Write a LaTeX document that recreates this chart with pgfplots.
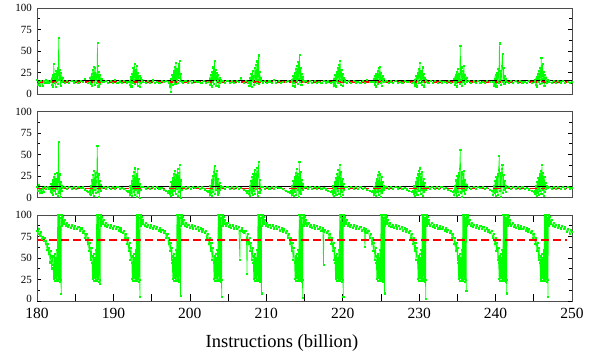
\documentclass[border=0pt]{standalone}
\usepackage{fontspec}
\setmainfont{Liberation Serif}
\usepackage{pgfplots}
\pgfplotsset{compat=1.18}
\definecolor{pgreen}{RGB}{0,255,0}
\pgfplotsset{
 panel/.style={scale only axis, width=535pt, height=86pt, xmin=180, xmax=250, ymin=0, ymax=100,
  ytick={0,25,50,75,100}, minor y tick num=1,
  axis line style={black!70, line width=0.9pt},
  tick style={black, line width=0.6pt},
  major tick length=4pt, minor tick length=3pt,
  yticklabel style={font=\fontsize{11}{13}\selectfont, inner sep=0pt, xshift=-5pt},
  /pgf/number format/assume math mode=true},
 gline/.style={pgreen, line width=0.6pt, mark=square*, mark size=0.55pt, mark options={pgreen}},
 rline/.style={red, line width=1.5pt, dash pattern=on 8pt off 4pt},
}
\begin{document}
\begin{tikzpicture}
% ---------------- bottom panel ----------------
\begin{axis}[panel, at={(0,0)}, anchor=south west,
  ytick={25,50,75,100}, minor ytick={12.5,37.5,62.5,87.5},
  extra y ticks={0}, extra y tick style={yticklabel style={yshift=2pt}},
  xtick={180,185,...,250}, xticklabels={180,,190,,200,,210,,220,,230,,240,,250},
  xtick style={/pgfplots/major tick length=7pt},
  xticklabel style={font=\fontsize{15.5}{18}\selectfont, inner sep=0pt, yshift=-7pt}]
\addplot[gline] coordinates {
(180.00,82) (180.10,78) (180.20,84) (180.35,76) (180.50,80) (180.65,72) (180.80,75) (180.90,70) (181.00,73) (181.10,66) (181.20,70) (181.30,60) (181.40,66) (181.50,55) (181.60,62) (181.70,45) (181.80,58) (181.90,38) (182.00,52) (182.10,42)
(182.16,26) (182.22,52) (182.28,24) (182.34,55) (182.40,27) (182.46,50) (182.52,23) (182.58,60) (182.64,25) (182.70,100) (182.76,23) (182.82,98) (182.88,26) (182.94,100) (183.00,22) (183.06,97) (183.12,25) (183.17,8) (183.20,100)
(183.25,87) (183.30,100) (183.36,90) (183.42,98) (183.50,90) (183.60,94) (183.75,87) (183.90,90.5) (184.05,86) (184.20,89) (184.40,85) (184.60,88) (184.80,84.5) (185.00,87.5) (185.20,83.5) (185.40,86.5) (185.60,82) (185.80,84.5) (186.00,79.5) (186.15,82) (186.30,74) (186.45,78) (186.60,66) (186.70,73) (186.80,58) (186.90,68) (187.00,48) (187.10,62) (187.20,44)
(187.26,26) (187.32,52) (187.38,24) (187.44,55) (187.50,27) (187.56,50) (187.62,23) (187.68,60) (187.74,25) (187.80,100) (187.86,23) (187.92,98) (187.98,26) (188.04,100) (188.10,22) (188.16,97) (188.22,25) (188.27,20) (188.30,100)
(188.35,87) (188.40,100) (188.46,90) (188.52,98) (188.60,90) (188.70,94) (188.85,87) (189.00,90.5) (189.15,86) (189.30,89) (189.50,85) (189.70,88) (189.90,84.5) (190.10,87.5) (190.30,83.5) (190.50,86.5) (190.70,82) (190.90,84.5) (191.00,81) (191.20,79.5) (191.35,82) (191.50,74) (191.65,78) (191.80,66) (191.90,73) (192.00,58) (192.10,68) (192.20,48) (192.30,62) (192.40,44)
(192.46,26) (192.52,52) (192.58,24) (192.64,55) (192.70,27) (192.76,50) (192.82,23) (192.88,60) (192.94,25) (193.00,100) (193.06,23) (193.12,98) (193.18,26) (193.24,100) (193.30,22) (193.36,97) (193.42,25) (193.47,5) (193.50,100)
(193.55,87) (193.60,100) (193.66,90) (193.72,98) (193.80,90) (193.90,94) (194.05,87) (194.20,90.5) (194.35,86) (194.50,89) (194.70,85) (194.90,88) (195.10,84.5) (195.30,87.5) (195.50,83.5) (195.70,86.5) (195.90,82) (196.10,84.5) (196.25,81) (196.40,83) (196.60,79.5) (196.75,82) (196.90,74) (197.05,78) (197.20,66) (197.30,73) (197.40,58) (197.50,68) (197.60,48) (197.65,62) (197.70,44)
(197.76,26) (197.82,52) (197.88,24) (197.94,55) (198.00,27) (198.06,50) (198.12,23) (198.18,60) (198.24,25) (198.30,100) (198.36,23) (198.42,98) (198.48,26) (198.54,100) (198.60,22) (198.66,97) (198.72,25) (198.77,6) (198.80,100)
(198.85,87) (198.90,100) (198.96,90) (199.02,98) (199.10,90) (199.20,94) (199.35,87) (199.50,90.5) (199.65,86) (199.80,89) (200.00,85) (200.20,88) (200.40,84.5) (200.60,87.5) (200.80,83.5) (201.00,86.5) (201.20,82) (201.40,84.5) (201.55,81) (201.70,83.5) (201.90,79.5) (202.05,82) (202.20,74) (202.35,78) (202.50,66) (202.60,73) (202.70,58) (202.80,68) (202.90,48) (203.00,62) (203.10,44)
(203.16,26) (203.22,52) (203.28,24) (203.34,55) (203.40,27) (203.46,50) (203.52,23) (203.58,60) (203.64,25) (203.70,100) (203.76,23) (203.82,98) (203.88,26) (203.94,100) (204.00,22) (204.06,97) (204.12,25) (204.17,5) (204.20,100)
(204.25,87) (204.30,100) (204.36,90) (204.42,98) (204.50,90) (204.60,94) (204.75,87) (204.90,90.5) (205.05,86) (205.20,89) (205.40,85) (205.60,88) (205.80,84.5) (206.00,87.5) (206.20,83.5) (206.40,86.5) (206.55,48) (206.60,82) (206.80,84.5) (206.90,81) (207.10,79.5) (207.25,82) (207.40,74) (207.48,32) (207.55,78) (207.70,66) (207.80,73) (207.90,58) (208.00,68) (208.10,48) (208.20,62) (208.30,44)
(208.36,26) (208.42,52) (208.48,24) (208.54,55) (208.60,27) (208.66,50) (208.72,23) (208.78,60) (208.84,25) (208.90,100) (208.96,23) (209.02,98) (209.08,26) (209.14,100) (209.20,22) (209.26,97) (209.32,25) (209.37,9) (209.40,100)
(209.45,87) (209.50,100) (209.56,90) (209.62,98) (209.70,90) (209.80,94) (209.95,87) (210.10,90.5) (210.25,86) (210.40,89) (210.60,85) (210.80,88) (211.00,84.5) (211.20,87.5) (211.40,83.5) (211.60,86.5) (211.80,82) (212.00,84.5) (212.15,81) (212.30,83.5) (212.50,79.5) (212.65,82) (212.80,74) (212.95,78) (213.10,66) (213.20,73) (213.30,58) (213.40,68) (213.50,48) (213.60,62) (213.70,44)
(213.76,26) (213.82,52) (213.88,24) (213.94,55) (214.00,27) (214.06,50) (214.12,23) (214.18,60) (214.24,25) (214.30,100) (214.36,23) (214.42,98) (214.48,26) (214.54,100) (214.60,22) (214.66,97) (214.72,25) (214.77,4) (214.80,100)
(214.85,87) (214.90,100) (214.96,90) (215.02,98) (215.10,90) (215.20,94) (215.35,87) (215.50,90.5) (215.65,86) (215.80,89) (216.00,85) (216.20,88) (216.40,84.5) (216.60,87.5) (216.80,83.5) (217.00,86.5) (217.20,82) (217.40,84.5) (217.48,42) (217.55,81) (217.70,83) (217.90,79.5) (218.05,82) (218.20,74) (218.35,78) (218.50,66) (218.60,73) (218.70,58) (218.80,68) (218.90,48) (218.95,62) (219.00,44)
(219.06,26) (219.12,52) (219.18,24) (219.24,55) (219.30,27) (219.36,50) (219.42,23) (219.48,60) (219.54,25) (219.60,100) (219.66,23) (219.72,98) (219.78,26) (219.84,100) (219.90,22) (219.96,97) (220.02,25) (220.07,5) (220.10,100)
(220.15,87) (220.20,100) (220.26,90) (220.32,98) (220.40,90) (220.50,94) (220.65,87) (220.80,90.5) (220.95,86) (221.10,89) (221.30,85) (221.50,88) (221.70,84.5) (221.90,87.5) (222.10,83.5) (222.30,86.5) (222.50,82) (222.70,84.5) (222.85,81) (222.90,63) (223.00,83.5) (223.20,79.5) (223.35,82) (223.50,74) (223.65,78) (223.80,66) (223.90,73) (224.00,58) (224.10,68) (224.20,48) (224.30,62) (224.40,44)
(224.46,26) (224.52,52) (224.58,24) (224.64,55) (224.70,27) (224.76,50) (224.82,23) (224.88,60) (224.94,25) (225.00,100) (225.06,23) (225.12,98) (225.18,26) (225.24,100) (225.30,22) (225.36,97) (225.42,25) (225.47,9) (225.50,100)
(225.55,87) (225.60,100) (225.66,90) (225.72,98) (225.80,90) (225.90,94) (226.05,87) (226.20,90.5) (226.35,86) (226.50,89) (226.70,85) (226.90,88) (227.10,84.5) (227.30,87.5) (227.50,83.5) (227.70,86.5) (227.90,82) (228.10,84.5) (228.25,81) (228.40,83.5) (228.60,79.5) (228.75,82) (228.90,74) (229.05,78) (229.20,66) (229.30,73) (229.40,58) (229.50,68) (229.60,48) (229.70,62) (229.80,44)
(229.86,26) (229.92,52) (229.98,24) (230.04,55) (230.10,27) (230.16,50) (230.22,23) (230.28,60) (230.34,25) (230.40,100) (230.46,23) (230.52,98) (230.58,26) (230.64,100) (230.70,22) (230.76,97) (230.82,25) (230.87,3) (230.90,100)
(230.95,87) (231.00,100) (231.06,90) (231.12,98) (231.20,90) (231.30,94) (231.45,87) (231.60,90.5) (231.75,86) (231.90,89) (232.10,85) (232.30,88) (232.50,84.5) (232.70,87.5) (232.90,83.5) (233.10,86.5) (233.30,82) (233.50,84.5) (233.65,81) (233.80,83) (234.00,79.5) (234.15,82) (234.30,74) (234.45,78) (234.60,66) (234.70,73) (234.80,58) (234.90,68) (235.00,48) (235.05,62) (235.10,44)
(235.16,26) (235.22,52) (235.28,24) (235.34,55) (235.40,27) (235.46,50) (235.52,23) (235.58,60) (235.64,25) (235.70,100) (235.76,23) (235.82,98) (235.88,26) (235.94,100) (236.00,22) (236.06,97) (236.12,25) (236.17,12) (236.20,100)
(236.25,87) (236.30,100) (236.36,90) (236.42,98) (236.50,90) (236.60,94) (236.75,87) (236.90,90.5) (237.05,86) (237.20,89) (237.40,85) (237.60,88) (237.80,84.5) (238.00,87.5) (238.20,83.5) (238.40,86.5) (238.60,82) (238.80,84.5) (238.95,81) (239.10,83) (239.30,79.5) (239.45,82) (239.60,74) (239.75,78) (239.90,66) (240.00,73) (240.10,58) (240.20,68) (240.30,48) (240.35,62) (240.40,44)
(240.46,26) (240.52,52) (240.58,24) (240.64,55) (240.70,27) (240.76,50) (240.82,23) (240.88,60) (240.94,25) (241.00,100) (241.06,23) (241.12,98) (241.18,26) (241.24,100) (241.30,22) (241.36,97) (241.42,25) (241.47,9) (241.50,100)
(241.55,87) (241.60,100) (241.66,90) (241.72,98) (241.80,90) (241.90,94) (242.05,87) (242.20,90.5) (242.35,86) (242.50,89) (242.70,85) (242.90,88) (243.10,84.5) (243.30,87.5) (243.50,83.5) (243.70,86.5) (243.90,82) (244.10,84.5) (244.25,81) (244.40,83.5) (244.60,79.5) (244.75,82) (244.90,74) (245.05,78) (245.20,66) (245.30,73) (245.40,58) (245.50,68) (245.60,48) (245.70,62) (245.80,44)
(245.86,26) (245.92,52) (245.98,24) (246.04,55) (246.10,27) (246.16,50) (246.22,23) (246.28,60) (246.34,25) (246.40,100) (246.46,23) (246.52,98) (246.58,26) (246.64,100) (246.70,22) (246.76,97) (246.82,25) (246.87,5) (246.90,100)
(246.95,87) (247.00,100) (247.06,90) (247.12,98) (247.20,90) (247.30,94) (247.45,87) (247.60,90.5) (247.75,86) (247.90,89) (248.10,85) (248.30,88) (248.50,84.5) (248.70,87.5) (248.90,83.5) (249.10,86) (249.30,80) (249.50,84) (249.70,78) (249.85,83) (250.00,80)
};
\addplot[rline] coordinates {(180,71) (249.3,71)};
\end{axis}
% ---------------- middle panel ----------------
\begin{axis}[panel, at={(0,103.5pt)}, anchor=south west, xtick=\empty]
\addplot[gline] coordinates {
(180.00,12.5) (180.12,8) (180.25,15) (180.38,5) (180.50,9) (180.62,6) (180.75,11.5) (180.88,7) (181.00,12.8) (181.20,10.6) (181.40,12.3) (181.60,9.8)
(181.70,11) (181.78,7) (181.86,16) (181.94,5) (182.02,20) (182.10,3) (182.18,24) (182.26,8) (182.34,28) (182.42,4) (182.50,22) (182.58,10) (182.66,29) (182.74,2) (182.82,65) (182.90,6) (182.98,27) (183.06,1) (183.14,18) (183.22,8) (183.30,14) (183.38,11)
(183.6,12.4) (183.9,10.3) (184.2,12.8) (184.5,10.6) (184.8,12.1) (185.1,10.1) (185.4,12.6) (185.7,10.8) (186.0,11.9) (186.3,9.2) (186.5,7.5) (186.7,6.2)
(186.85,8) (186.93,4) (187.01,14) (187.09,3) (187.17,20) (187.25,6) (187.33,26) (187.41,2) (187.49,31) (187.57,9) (187.65,29) (187.73,5) (187.81,24) (187.89,60) (187.97,7) (188.05,27) (188.13,1) (188.21,19) (188.29,8) (188.37,15) (188.45,11)
(188.7,12.6) (189.0,10.4) (189.3,12.9) (189.6,10.2) (189.9,12.3) (190.2,10.7) (190.5,12.7) (190.8,10.5) (191.1,11.8) (191.4,9.6) (191.7,7.8) (191.9,6.4)
(192.05,8) (192.13,3) (192.21,13) (192.29,5) (192.37,19) (192.45,2) (192.53,25) (192.61,7) (192.69,30) (192.77,3) (192.85,34) (192.93,9) (193.01,28) (193.09,1) (193.17,33) (193.25,6) (193.33,22) (193.41,0) (193.49,16) (193.57,9) (193.65,12)
(193.9,12.5) (194.2,10.3) (194.5,12.7) (194.8,10.6) (195.1,12.2) (195.4,10.0) (195.7,12.8) (196.0,10.7) (196.3,11.6) (196.6,9.3) (196.9,7.6) (197.1,6.0)
(197.25,8) (197.33,4) (197.41,12) (197.49,2) (197.57,18) (197.65,6) (197.73,23) (197.81,3) (197.89,28) (197.97,8) (198.05,31) (198.13,4) (198.21,26) (198.29,10) (198.37,33) (198.45,2) (198.53,29) (198.61,7) (198.69,38) (198.77,0) (198.85,20) (198.93,9) (199.01,12)
(199.2,12.4) (199.5,10.2) (199.8,12.9) (200.1,10.5) (200.4,12.3) (200.7,10.8) (201.0,12.6) (201.3,10.1) (201.6,11.9) (201.9,9.5) (202.2,7.7) (202.4,6.3)
(202.50,8) (202.58,3) (202.66,14) (202.74,5) (202.82,20) (202.90,2) (202.98,25) (203.06,7) (203.14,30) (203.22,37) (203.30,4) (203.38,27) (203.46,9) (203.54,31) (203.62,3) (203.70,22) (203.78,6) (203.86,17) (203.94,9) (204.02,13) (204.10,11)
(204.3,12.5) (204.6,10.4) (204.9,12.7) (205.2,10.1) (205.5,12.2) (205.8,10.6) (206.1,12.8) (206.4,10.3) (206.7,11.7) (207.0,9.4) (207.3,7.5) (207.5,6.1)
(207.65,8) (207.73,4) (207.81,13) (207.89,2) (207.97,19) (208.05,6) (208.13,24) (208.21,3) (208.29,28) (208.37,8) (208.45,32) (208.53,4) (208.61,27) (208.69,10) (208.77,35) (208.85,2) (208.93,30) (209.01,41) (209.09,6) (209.17,21) (209.25,9) (209.33,12)
(209.5,12.6) (209.8,10.3) (210.1,12.8) (210.4,10.6) (210.7,12.1) (211.0,10.2) (211.3,12.7) (211.6,10.8) (211.9,11.6) (212.2,9.6) (212.5,7.8) (212.8,6.5) (213.05,6.0)
(213.20,8) (213.28,3) (213.36,13) (213.44,5) (213.52,19) (213.60,2) (213.68,24) (213.76,7) (213.84,29) (213.92,3) (214.00,33) (214.08,9) (214.16,28) (214.24,1) (214.32,42) (214.40,6) (214.48,30) (214.56,4) (214.64,21) (214.72,9) (214.80,16) (214.88,11)
(215.1,12.4) (215.4,10.5) (215.7,12.9) (216.0,10.2) (216.3,12.3) (216.6,10.7) (216.9,12.6) (217.2,10.4) (217.5,11.8) (217.8,9.5) (218.1,7.7) (218.4,6.2)
(218.60,8) (218.68,4) (218.76,13) (218.84,2) (218.92,18) (219.00,6) (219.08,23) (219.16,3) (219.24,28) (219.32,8) (219.40,32) (219.48,4) (219.56,27) (219.64,38) (219.72,1) (219.80,30) (219.88,7) (219.96,22) (220.04,3) (220.12,16) (220.20,9) (220.28,12)
(220.5,12.5) (220.8,10.3) (221.1,12.7) (221.4,10.6) (221.7,12.2) (222.0,10.1) (222.3,12.8) (222.6,10.5) (222.9,11.7) (223.2,9.4) (223.5,7.6) (223.8,6.3)
(223.95,8) (224.03,3) (224.11,12) (224.19,5) (224.27,17) (224.35,2) (224.43,22) (224.51,7) (224.59,26) (224.67,3) (224.75,30) (224.83,8) (224.91,27) (224.99,1) (225.07,24) (225.15,6) (225.23,18) (225.31,9) (225.39,13) (225.47,11)
(225.7,12.6) (226.0,10.4) (226.3,12.8) (226.6,10.2) (226.9,12.1) (227.2,10.7) (227.5,12.6) (227.8,10.3) (228.1,11.8) (228.4,9.5) (228.7,7.8) (229.0,6.4)
(229.20,8) (229.28,4) (229.36,13) (229.44,2) (229.52,18) (229.60,6) (229.68,23) (229.76,3) (229.84,27) (229.92,8) (230.00,31) (230.08,34) (230.16,4) (230.24,28) (230.32,9) (230.40,30) (230.48,2) (230.56,22) (230.64,7) (230.72,17) (230.80,9) (230.88,12)
(231.1,12.5) (231.4,10.2) (231.7,12.7) (232.0,10.6) (232.3,12.3) (232.6,10.1) (232.9,12.8) (233.2,10.5) (233.5,11.6) (233.8,9.3) (234.1,7.6) (234.35,6.2)
(234.50,8) (234.58,3) (234.66,14) (234.74,5) (234.82,20) (234.90,2) (234.98,25) (235.06,7) (235.14,29) (235.22,3) (235.30,33) (235.38,55) (235.46,6) (235.54,30) (235.62,1) (235.70,27) (235.78,8) (235.86,31) (235.94,4) (236.02,21) (236.10,9) (236.18,15) (236.26,11)
(236.5,12.4) (236.8,10.3) (237.1,12.9) (237.4,10.5) (237.7,12.2) (238.0,10.8) (238.3,12.6) (238.6,10.2) (238.9,11.7) (239.2,9.4) (239.45,7.5)
(239.60,8) (239.68,3) (239.76,13) (239.84,5) (239.92,19) (240.00,2) (240.08,24) (240.16,7) (240.24,28) (240.32,3) (240.40,32) (240.48,48) (240.56,8) (240.64,29) (240.72,1) (240.80,33) (240.88,38) (240.96,5) (241.04,26) (241.12,9) (241.20,19) (241.28,7) (241.36,14) (241.44,11)
(241.7,12.6) (242.0,10.4) (242.3,12.8) (242.6,10.1) (242.9,12.3) (243.2,10.6) (243.5,12.7) (243.8,10.3) (244.1,11.6) (244.4,9.5) (244.7,7.7) (244.95,6.3)
(245.10,8) (245.18,4) (245.26,13) (245.34,2) (245.42,18) (245.50,6) (245.58,23) (245.66,3) (245.74,28) (245.82,8) (245.90,31) (245.98,4) (246.06,38) (246.14,9) (246.22,29) (246.30,2) (246.38,24) (246.46,7) (246.54,17) (246.62,10) (246.70,13) (246.78,11)
(247.0,12.5) (247.3,10.3) (247.6,12.7) (247.9,10.6) (248.2,12.2) (248.5,10.4) (248.8,12.8) (249.1,10.2) (249.4,12.1) (249.7,10.7) (250.0,11.5)
};
\addplot[black, line width=0.8pt] coordinates {(180,12.5) (250,12.5)};
\addplot[rline] coordinates {(180,10.3) (249.3,10.3)};
\end{axis}
% ---------------- top panel ----------------
\begin{axis}[panel, at={(0,207pt)}, anchor=south west, xtick=\empty]
\addplot[gline] coordinates {
(180.00,16) (180.10,10.5) (180.25,14.5) (180.40,9.5) (180.55,15) (180.70,10) (180.85,14.8) (181.00,13.2) (181.15,17) (181.30,13.5) (181.45,15.2) (181.60,12.8) (181.75,15.5)
(181.80,14) (181.88,18) (181.96,11) (182.04,22) (182.12,9) (182.20,35) (182.28,13) (182.36,24) (182.44,8) (182.52,27) (182.60,15) (182.68,30) (182.76,12) (182.84,65) (182.92,16) (183.00,28) (183.08,10) (183.16,25) (183.24,14) (183.32,19) (183.40,15)
(183.6,13.5) (183.9,15.2) (184.2,13.1) (184.5,15.8) (184.8,13.6) (185.1,14.9) (185.4,12.8) (185.7,15.4) (186.0,13.9) (186.3,17.5) (186.6,13.3)
(186.90,14.5) (186.98,19) (187.06,12) (187.14,24) (187.22,10) (187.30,28) (187.38,14) (187.46,32) (187.54,11) (187.62,30) (187.70,17) (187.78,22) (187.86,13) (187.90,60) (187.94,33) (188.02,9) (188.10,26) (188.18,12) (188.26,22) (188.34,15) (188.42,18) (188.50,14)
(188.7,13.8) (189.0,15.5) (189.3,12.9) (189.6,15.1) (189.9,13.4) (190.2,16.2) (190.5,13.0) (190.8,14.8) (191.1,12.7) (191.4,15.6) (191.7,13.6) (192.0,14.4)
(192.10,15) (192.18,11) (192.26,20) (192.34,9) (192.42,24) (192.50,13) (192.58,30) (192.66,16) (192.74,35) (192.82,12) (192.90,28) (192.98,18) (193.06,33) (193.14,10) (193.22,25) (193.30,14) (193.38,21) (193.46,8) (193.54,19) (193.62,13) (193.70,16)
(193.9,14.2) (194.2,12.8) (194.5,15.3) (194.8,13.5) (195.1,15.9) (195.4,13.0) (195.7,14.7) (196.0,12.9) (196.3,15.2) (196.6,13.7) (196.9,14.9) (197.2,13.3)
(197.30,14) (197.38,9) (197.46,18) (197.54,3) (197.62,16) (197.70,22) (197.78,11) (197.86,27) (197.94,14) (198.02,32) (198.10,12) (198.18,36) (198.26,17) (198.34,29) (198.42,13) (198.50,35) (198.58,19) (198.66,39) (198.74,15) (198.82,24) (198.90,14)
(199.1,13.6) (199.4,15.4) (199.7,12.7) (200.0,14.9) (200.3,13.2) (200.6,15.7) (200.9,13.8) (201.2,14.3) (201.5,12.9) (201.8,15.5) (202.1,13.4) (202.4,14.6)
(202.50,14) (202.58,18) (202.66,11) (202.74,22) (202.82,9) (202.90,26) (202.98,14) (203.06,31) (203.14,12) (203.22,39) (203.30,16) (203.38,28) (203.46,10) (203.54,25) (203.62,15) (203.70,22) (203.78,9) (203.86,19) (203.94,13) (204.02,17) (204.10,14)
(204.3,15.1) (204.6,13.0) (204.9,15.6) (205.2,13.4) (205.5,14.8) (205.8,12.8) (206.1,15.3) (206.4,13.7) (206.7,18.5) (207.0,13.1) (207.3,14.9) (207.6,13.5)
(207.70,14) (207.78,10) (207.86,19) (207.94,12) (208.02,23) (208.10,8) (208.18,27) (208.26,15) (208.34,21) (208.42,11) (208.50,30) (208.58,17) (208.66,34) (208.74,13) (208.82,38) (208.90,16) (208.98,45) (209.06,12) (209.14,26) (209.22,15) (209.30,19)
(209.5,13.6) (209.8,15.2) (210.1,12.9) (210.4,14.8) (210.7,13.3) (211.0,16.4) (211.3,13.1) (211.6,15.0) (211.9,12.7) (212.2,14.6) (212.5,13.8) (212.8,15.3)
(213.30,14) (213.38,17) (213.46,10) (213.54,21) (213.62,13) (213.70,25) (213.78,9) (213.86,29) (213.94,15) (214.02,33) (214.10,12) (214.18,37) (214.26,18) (214.34,46) (214.42,14) (214.50,30) (214.58,11) (214.66,24) (214.74,16) (214.82,20) (214.90,14)
(215.1,15.4) (215.4,13.1) (215.7,14.9) (216.0,12.8) (216.3,15.7) (216.6,13.5) (216.9,14.4) (217.2,12.9) (217.5,15.2) (217.8,13.6) (218.1,14.8) (218.4,13.2)
(218.70,14) (218.78,10) (218.86,18) (218.94,12) (219.02,22) (219.10,9) (219.18,26) (219.26,15) (219.34,30) (219.42,13) (219.50,34) (219.58,17) (219.66,39) (219.74,11) (219.82,28) (219.90,15) (219.98,23) (220.06,10) (220.14,19) (220.22,14) (220.30,16)
(220.5,13.4) (220.8,15.3) (221.1,13.0) (221.4,15.8) (221.7,13.6) (222.0,14.7) (222.3,12.8) (222.6,15.1) (222.9,13.3) (223.2,17.0) (223.5,13.7) (223.8,14.5)
(224.00,14) (224.08,18) (224.16,11) (224.24,21) (224.32,9) (224.40,24) (224.48,14) (224.56,27) (224.64,12) (224.72,30) (224.80,16) (224.88,32) (224.96,13) (225.04,25) (225.12,10) (225.20,21) (225.28,15) (225.36,18) (225.44,14)
(225.7,15.2) (226.0,13.1) (226.3,14.8) (226.6,12.7) (226.9,15.5) (227.2,13.4) (227.5,14.6) (227.8,13.0) (228.1,15.3) (228.4,13.8) (228.7,14.4) (229.0,13.2)
(229.30,14) (229.38,10) (229.46,17) (229.54,12) (229.62,21) (229.70,9) (229.78,25) (229.86,15) (229.94,29) (230.02,13) (230.10,36) (230.18,17) (230.26,27) (230.34,11) (230.42,31) (230.50,14) (230.58,23) (230.66,9) (230.74,19) (230.82,15) (230.90,17) (230.98,14)
(231.2,13.5) (231.5,15.4) (231.8,12.9) (232.1,14.9) (232.4,13.3) (232.7,15.8) (233.0,13.6) (233.3,14.5) (233.6,12.8) (233.9,15.2) (234.2,13.4)
(234.50,14) (234.58,18) (234.66,11) (234.74,22) (234.82,13) (234.90,26) (234.98,9) (235.06,29) (235.14,15) (235.22,24) (235.30,12) (235.38,56) (235.46,17) (235.54,31) (235.62,10) (235.70,27) (235.78,14) (235.86,33) (235.94,12) (236.02,22) (236.10,16) (236.18,19) (236.26,14)
(236.5,15.1) (236.8,13.2) (237.1,14.8) (237.4,12.9) (237.7,15.6) (238.0,13.5) (238.3,14.7) (238.6,13.0) (238.9,15.3) (239.2,13.7)
(239.70,14) (239.78,10) (239.86,18) (239.94,12) (240.02,22) (240.10,9) (240.18,25) (240.26,15) (240.34,29) (240.42,13) (240.50,59) (240.58,16) (240.66,27) (240.74,11) (240.82,33) (240.90,47) (240.98,14) (241.06,30) (241.14,12) (241.22,21) (241.30,15) (241.38,18) (241.46,14)
(241.7,13.3) (242.0,15.5) (242.3,13.0) (242.6,14.9) (242.9,12.8) (243.2,15.2) (243.5,13.6) (243.8,14.4) (244.1,13.1) (244.4,15.7) (244.7,13.4)
(245.10,14) (245.18,17) (245.26,11) (245.34,20) (245.42,9) (245.50,23) (245.58,14) (245.66,27) (245.74,12) (245.82,30) (245.90,16) (245.98,42) (246.06,13) (246.14,35) (246.22,18) (246.30,26) (246.38,10) (246.46,22) (246.54,15) (246.62,19) (246.70,13) (246.78,16)
(247.0,14.8) (247.3,12.9) (247.6,15.4) (247.9,13.3) (248.2,14.9) (248.5,13.6) (248.8,15.1) (249.1,13.2) (249.4,14.6) (249.7,13.5) (250.0,14.2)
};
\addplot[black, line width=0.8pt] coordinates {(180,15.3) (250,15.3)};
\addplot[rline] coordinates {(180,14.2) (249.3,14.2)};
\end{axis}
\node[font=\fontsize{18.5}{22}\selectfont] at (245pt,-42pt) {Instructions (billion)};
\path (-37pt,-58pt) rectangle (557pt,301pt);
\end{tikzpicture}
\end{document}
